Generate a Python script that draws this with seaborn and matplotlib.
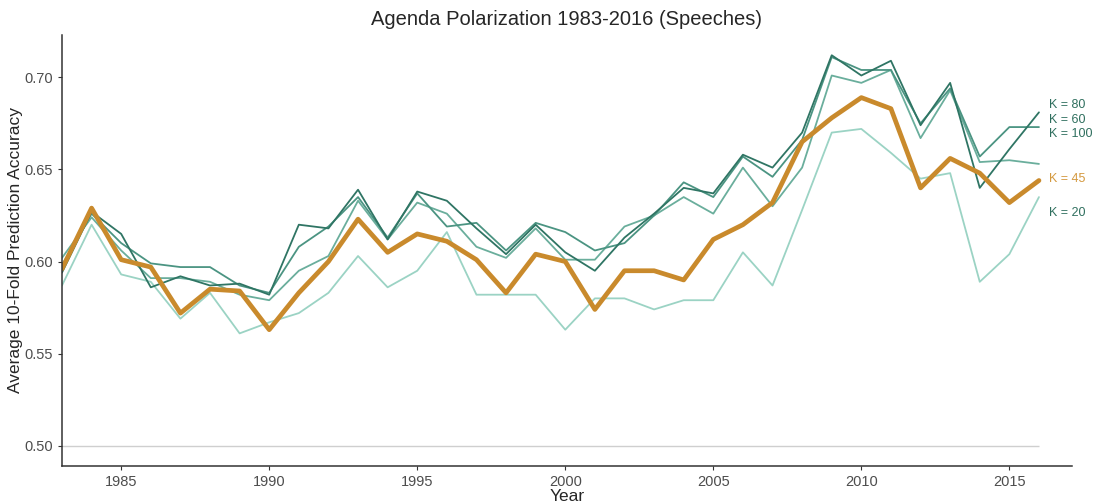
import pandas as pd
import seaborn as sns
import matplotlib.pyplot as plt
import numpy as np

# Values
years = list(range(1983, 2017))

k20 = [0.587, 0.620, 0.593, 0.589, 0.569, 0.583, 0.561, 0.567, 0.572, 0.583,
       0.603, 0.586, 0.595, 0.616, 0.582, 0.582, 0.582, 0.563, 0.580, 0.580,
       0.574, 0.579, 0.579, 0.605, 0.587, 0.628, 0.670, 0.672, 0.659, 0.645,
       0.648, 0.589, 0.604, 0.635]

k45 = [0.596, 0.629, 0.601, 0.597, 0.572, 0.585, 0.584, 0.563, 0.583, 0.600,
       0.623, 0.605, 0.615, 0.611, 0.601, 0.583, 0.604, 0.600, 0.574, 0.595,
       0.595, 0.590, 0.612, 0.620, 0.632, 0.665, 0.678, 0.689, 0.683, 0.640,
       0.656, 0.648, 0.632, 0.644]

k60 = [0.598, 0.626, 0.610, 0.599, 0.597, 0.597, 0.587, 0.583, 0.608, 0.619,
       0.635, 0.613, 0.637, 0.619, 0.621, 0.606, 0.621, 0.616, 0.606, 0.610,
       0.625, 0.643, 0.635, 0.657, 0.646, 0.666, 0.711, 0.704, 0.704, 0.675,
       0.694, 0.657, 0.673, 0.673]

k80 = [0.594, 0.627, 0.615, 0.586, 0.592, 0.587, 0.588, 0.582, 0.620, 0.618,
       0.639, 0.612, 0.638, 0.633, 0.618, 0.604, 0.620, 0.605, 0.595, 0.613,
       0.626, 0.640, 0.637, 0.658, 0.651, 0.670, 0.712, 0.701, 0.709, 0.674,
       0.697, 0.640, 0.661, 0.681]

k100 = [0.602, 0.624, 0.606, 0.591, 0.591, 0.589, 0.582, 0.579, 0.595, 0.603,
        0.633, 0.612, 0.632, 0.626, 0.608, 0.602, 0.618, 0.601, 0.601, 0.619,
        0.625, 0.635, 0.626, 0.651, 0.630, 0.651, 0.701, 0.697, 0.704, 0.667,
        0.693, 0.654, 0.655, 0.653]

series = {"K = 20": k20, "K = 100": k100, "K = 60": k60, "K = 80": k80, "K = 45": k45}

df = pd.concat(
    [pd.DataFrame({"year": years, "acc": v, "K": name}) for name, v in series.items()],
    ignore_index=True,
)

palette = {"K = 20": "#9bd3c4", "K = 100": "#6aae9c", "K = 60": "#4b9482",
           "K = 80": "#2f7564", "K = 45": "#c98a2c"}
sizes = {"K = 20": 1.3, "K = 100": 1.3, "K = 60": 1.3, "K = 80": 1.3, "K = 45": 3.4}

# label placement on the right, as in the picture
label_names = ["K = 80", "K = 60", "K = 100", "K = 45", "K = 20"]
label_y = [0.6848, 0.6767, 0.6690, 0.6447, 0.6263]
label_colors = ["#2f6f5e", "#2f6f5e", "#2f6f5e", "#d4993f", "#2f6f5e"]

sns.set_style("white")
plt.rcParams["font.family"] = ["Liberation Sans", "DejaVu Sans"]

fig = plt.figure(figsize=(10.99, 5.04), dpi=100)
ax = fig.add_axes([0.0564, 0.0754, 0.9186, 0.8552])

ax.hlines(0.50, 1983, 2016, color="#cfcfcf", linewidth=1.0, zorder=0)

sns.lineplot(data=df, x="year", y="acc", hue="K", size="K",
             hue_order=list(series.keys()), palette=palette, sizes=sizes,
             legend=False, ax=ax)

for name, yv, c in zip(label_names, label_y, label_colors):
    ax.text(2016.35, yv, name, color=c, fontsize=9, va="center", ha="left")

ax.set_xlim(1983, 2017.1)
ax.set_ylim(0.489, 0.723)
ax.set_xticks([1985, 1990, 1995, 2000, 2005, 2010, 2015])
ax.set_yticks([0.50, 0.55, 0.60, 0.65, 0.70])
ax.set_yticklabels(["0.50", "0.55", "0.60", "0.65", "0.70"])

for s in ["top", "right"]:
    ax.spines[s].set_visible(False)
for s in ["left", "bottom"]:
    ax.spines[s].set_color("#333333")
    ax.spines[s].set_linewidth(1.1)
ax.tick_params(axis="both", which="both", direction="out", length=3,
               color="#333333", labelsize=10.5, labelcolor="#4d4d4d",
               left=True, bottom=True)

ax.set_xlabel("Year", fontsize=12.5, labelpad=0)
ax.set_ylabel("Average 10-Fold Prediction Accuracy", fontsize=12.5, labelpad=1)
ax.set_title("Agenda Polarization 1983-2016 (Speeches)", fontsize=14.5, pad=7)

fig.savefig("out.png", dpi=100)
